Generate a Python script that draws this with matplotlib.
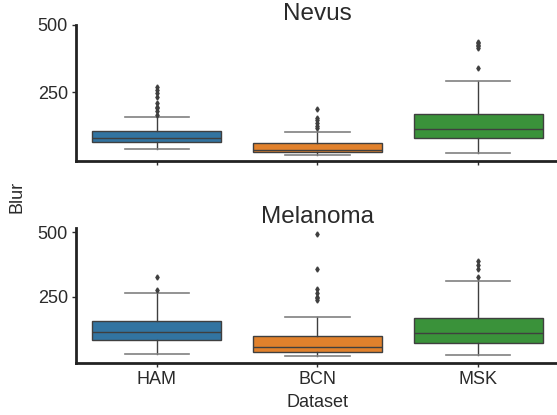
import matplotlib
matplotlib.use("Agg")
import matplotlib.pyplot as plt

# box-plot summaries (blur per dataset)
DATASETS = ["HAM", "BCN", "MSK"]
COLORS = ["#3274a1", "#e1812c", "#3a923a"]

NEVUS_Q1 = [65, 25, 78]
NEVUS_MED = [78, 35, 112]
NEVUS_Q3 = [104, 61, 169]
NEVUS_WHISLO = [38, 14, 24]
NEVUS_WHISHI = [158, 101, 290]
NEVUS_FLIERS = [
    [166, 180, 190, 195, 209, 232, 245, 258, 270],
    [115, 122, 135, 145, 152, 185],
    [341, 413, 420, 425, 432, 438],
]

MEL_Q1 = [81, 35, 69]
MEL_MED = [112, 55, 111]
MEL_Q3 = [157, 96, 167]
MEL_WHISLO = [29, 19, 22]
MEL_WHISHI = [265, 172, 312]
MEL_FLIERS = [
    [276, 326],
    [237, 245, 250, 263, 278, 357, 493],
    [326, 356, 371, 388],
]

TEXT = "#2a2a2a"
LINE = "#3f3f3f"
plt.rcParams["font.family"] = ["Liberation Sans", "DejaVu Sans"]


def draw_panel(ax, title, q1, med, q3, lo, hi, fliers, ylim, pad):
    stats = []
    for i, name in enumerate(DATASETS):
        stats.append(dict(label=name, q1=q1[i], med=med[i], q3=q3[i],
                          whislo=lo[i], whishi=hi[i], fliers=fliers[i]))
    parts = ax.bxp(stats, positions=range(len(DATASETS)), widths=0.8,
                   capwidths=0.4, patch_artist=True,
                   boxprops=dict(edgecolor=LINE, linewidth=1),
                   medianprops=dict(color=LINE, linewidth=1),
                   whiskerprops=dict(color=LINE, linewidth=1),
                   capprops=dict(color="#808080", linewidth=1.2),
                   flierprops=dict(marker="d", markersize=2.6,
                                   markerfacecolor=LINE, markeredgecolor=LINE))
    for box, c in zip(parts["boxes"], COLORS):
        box.set_facecolor(c)
    ax.set_xlim(-0.5, 2.5)
    ax.set_ylim(*ylim)
    ax.set_yticks([250, 500])
    ax.set_title(title, fontsize=17.5, color=TEXT, pad=pad)
    for s in ["top", "right"]:
        ax.spines[s].set_visible(False)
    for s in ["left", "bottom"]:
        ax.spines[s].set_linewidth(2)
        ax.spines[s].set_color("#222222")
    ax.tick_params(labelsize=13, colors=TEXT, length=3, width=1, pad=3)


fig = plt.figure(figsize=(5.57, 4.15), dpi=100)
ax_top = fig.add_axes([0.137, 0.612, 0.866, 0.328])
ax_bot = fig.add_axes([0.137, 0.126, 0.866, 0.325])

draw_panel(ax_top, "Nevus", NEVUS_Q1, NEVUS_MED, NEVUS_Q3,
           NEVUS_WHISLO, NEVUS_WHISHI, NEVUS_FLIERS, (-7, 500), 1.0)
draw_panel(ax_bot, "Melanoma", MEL_Q1, MEL_MED, MEL_Q3,
           MEL_WHISLO, MEL_WHISHI, MEL_FLIERS, (-6, 517), 3.0)

ax_top.set_xticklabels([])
ax_bot.set_xlabel("Dataset", fontsize=13, color=TEXT, labelpad=4)
fig.text(0.031, 0.525, "Blur", rotation=90, fontsize=13, color=TEXT,
         ha="center", va="center")

fig.savefig("out.png", dpi=100)
